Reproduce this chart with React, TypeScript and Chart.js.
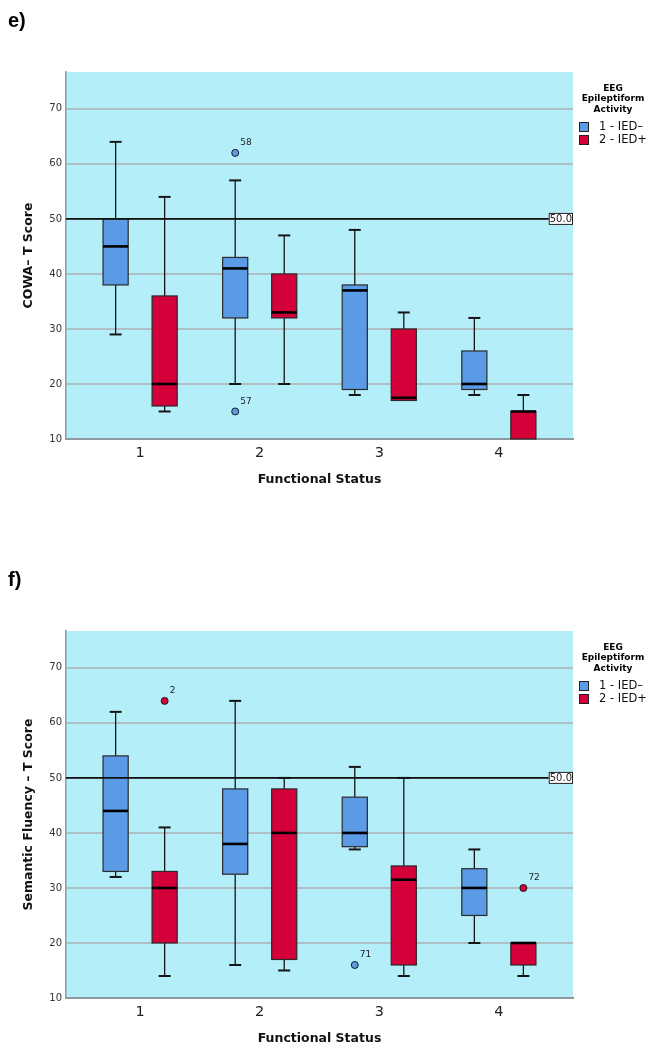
import React, { useEffect, useRef } from "react";
import { Chart, registerables } from "chart.js";

Chart.register(...registerables);

// ---------- shared data ----------
const categories = [1, 2, 3, 4];
const yTickValues = [10, 20, 30, 40, 50, 60, 70];
const seriesLabels = ["1 - IED–", "2 - IED+"];
const legendTitleLines = ["EEG", "Epileptiform", "Activity"];
const referenceValue = 50;
const referenceLabel = "50.0";

// ---------- e) COWA ----------
const cowaNegLow = [29, 20, 18, 18];
const cowaNegQ1 = [38, 32, 19, 19];
const cowaNegMedian = [45, 41, 37, 20];
const cowaNegQ3 = [50, 43, 38, 26];
const cowaNegHigh = [64, 57, 48, 32];
const cowaNegOutCat = [2, 2];
const cowaNegOutVal = [62, 15];
const cowaNegOutId = ["58", "57"];

const cowaPosLow = [15, 20, 17, 10];
const cowaPosQ1 = [16, 32, 17, 10];
const cowaPosMedian = [20, 33, 17.5, 15];
const cowaPosQ3 = [36, 40, 30, 15];
const cowaPosHigh = [54, 47, 33, 18];
const cowaPosOutCat: number[] = [];
const cowaPosOutVal: number[] = [];
const cowaPosOutId: string[] = [];

// ---------- f) Semantic Fluency ----------
const semNegLow = [32, 16, 37, 20];
const semNegQ1 = [33, 32.5, 37.5, 25];
const semNegMedian = [44, 38, 40, 30];
const semNegQ3 = [54, 48, 46.5, 33.5];
const semNegHigh = [62, 64, 52, 37];
const semNegOutCat = [3];
const semNegOutVal = [16];
const semNegOutId = ["71"];

const semPosLow = [14, 15, 14, 14];
const semPosQ1 = [20, 17, 16, 16];
const semPosMedian = [30, 40, 31.5, 20];
const semPosQ3 = [33, 48, 34, 20];
const semPosHigh = [41, 50, 50, 20];
const semPosOutCat = [1, 4];
const semPosOutVal = [64, 30];
const semPosOutId = ["2", "72"];

// ---------- styles ----------
const PLOT_BG = "#b4eef9";
const SERIES_COLORS = ["#5b9be6", "#d3003a"];
const SERIES_OFFSETS = [-0.205, 0.205];
const BOX_WIDTH = 0.21;
const FONT = "DejaVu Sans";

type Series = {
  low: number[];
  q1: number[];
  med: number[];
  q3: number[];
  high: number[];
  outCat: number[];
  outVal: number[];
  outId: string[];
};

function Panel(props: {
  top: number;
  panel: string;
  yTitle: string;
  series: Series[];
}) {
  const ref = useRef<HTMLCanvasElement>(null);
  useEffect(() => {
    const series = props.series;
    const plugin = {
      id: "boxplotDraw",
      beforeDraw(chart: any) {
        const { ctx, chartArea: a } = chart;
        ctx.save();
        ctx.fillStyle = PLOT_BG;
        ctx.fillRect(a.left, a.top, a.right - a.left, a.bottom - a.top);
        ctx.restore();
      },
      beforeDatasetsDraw(chart: any) {
        const { ctx, chartArea: a, scales } = chart;
        const x = scales.x;
        const y = scales.y;
        ctx.save();
        series.forEach((s, si) => {
          categories.forEach((c, i) => {
            const cx = x.getPixelForValue(c + SERIES_OFFSETS[si]);
            const xl = x.getPixelForValue(c + SERIES_OFFSETS[si] - BOX_WIDTH / 2);
            const xr = x.getPixelForValue(c + SERIES_OFFSETS[si] + BOX_WIDTH / 2);
            const yLow = y.getPixelForValue(s.low[i]);
            const yQ1 = y.getPixelForValue(s.q1[i]);
            const yMed = y.getPixelForValue(s.med[i]);
            const yQ3 = y.getPixelForValue(s.q3[i]);
            const yHigh = y.getPixelForValue(s.high[i]);
            ctx.strokeStyle = "#151515";
            if (s.high[i] > s.q3[i]) {
              ctx.lineWidth = 1.3;
              ctx.beginPath();
              ctx.moveTo(cx, yQ3);
              ctx.lineTo(cx, yHigh);
              ctx.stroke();
              ctx.lineWidth = 2;
              ctx.beginPath();
              ctx.moveTo(cx - 6, yHigh);
              ctx.lineTo(cx + 6, yHigh);
              ctx.stroke();
            }
            if (s.low[i] < s.q1[i]) {
              ctx.lineWidth = 1.3;
              ctx.beginPath();
              ctx.moveTo(cx, yQ1);
              ctx.lineTo(cx, yLow);
              ctx.stroke();
              ctx.lineWidth = 2;
              ctx.beginPath();
              ctx.moveTo(cx - 6, yLow);
              ctx.lineTo(cx + 6, yLow);
              ctx.stroke();
            }
            ctx.fillStyle = SERIES_COLORS[si];
            ctx.fillRect(xl, yQ3, xr - xl, yQ1 - yQ3);
            ctx.lineWidth = 1.2;
            ctx.strokeStyle = "#2a2a2a";
            ctx.strokeRect(xl, yQ3, xr - xl, yQ1 - yQ3);
            ctx.lineWidth = 2.6;
            ctx.strokeStyle = "#000";
            ctx.beginPath();
            ctx.moveTo(xl, yMed);
            ctx.lineTo(xr, yMed);
            ctx.stroke();
          });
        });
        const yr = y.getPixelForValue(referenceValue);
        ctx.strokeStyle = "#111";
        ctx.lineWidth = 1.6;
        ctx.beginPath();
        ctx.moveTo(a.left, yr);
        ctx.lineTo(a.right, yr);
        ctx.stroke();
        ctx.font = `10px "${FONT}"`;
        const tw = ctx.measureText(referenceLabel).width + 2;
        ctx.fillStyle = "#fff";
        ctx.fillRect(a.right - tw, yr - 6, tw, 12);
        ctx.lineWidth = 1;
        ctx.strokeStyle = "#222";
        ctx.strokeRect(a.right - tw + 0.5, yr - 5.5, tw - 1, 11);
        ctx.fillStyle = "#222";
        ctx.textAlign = "left";
        ctx.textBaseline = "middle";
        ctx.fillText(referenceLabel, a.right - tw + 1, yr + 0.5);
        ctx.restore();
      },
      afterDatasetsDraw(chart: any) {
        const { ctx, scales } = chart;
        ctx.save();
        ctx.font = `9px "${FONT}"`;
        ctx.fillStyle = "#222";
        ctx.textAlign = "left";
        ctx.textBaseline = "middle";
        series.forEach((s, si) => {
          s.outCat.forEach((c, k) => {
            const px = scales.x.getPixelForValue(c + SERIES_OFFSETS[si]);
            const py = scales.y.getPixelForValue(s.outVal[k]);
            ctx.fillText(s.outId[k], px + 5, py - 10);
          });
        });
        ctx.restore();
      },
      afterDraw(chart: any) {
        const { ctx, chartArea: a } = chart;
        ctx.save();
        ctx.fillStyle = "#000";
        ctx.font = `bold 20px "Liberation Sans"`;
        ctx.textAlign = "left";
        ctx.textBaseline = "middle";
        ctx.fillText(props.panel, 8, 21);
        const lx = a.right + 40;
        ctx.font = `bold 9px "${FONT}"`;
        ctx.textAlign = "center";
        legendTitleLines.forEach((t, i) => ctx.fillText(t, lx, 88.5 + i * 10.5));
        ctx.font = `11.5px "${FONT}"`;
        ctx.textAlign = "left";
        seriesLabels.forEach((lab, i) => {
          const sy = 122 + i * 13;
          ctx.fillStyle = SERIES_COLORS[i];
          ctx.fillRect(a.right + 6, sy, 10, 10);
          ctx.strokeStyle = "#222";
          ctx.lineWidth = 1;
          ctx.strokeRect(a.right + 6.5, sy + 0.5, 9, 9);
          ctx.fillStyle = "#111";
          ctx.fillText(lab, a.right + 26, sy + 5.5);
        });
        ctx.restore();
      },
    };

    const datasets = props.series.map((s, si) => ({
      label: seriesLabels[si],
      data: s.outCat.map((c, k) => ({ x: c + SERIES_OFFSETS[si], y: s.outVal[k] })),
      backgroundColor: SERIES_COLORS[si],
      borderColor: "#1a1a1a",
      borderWidth: 1,
      pointRadius: 3.5,
    }));

    const chart = new Chart(ref.current as HTMLCanvasElement, {
      type: "scatter",
      data: { datasets },
      options: {
        animation: false,
        responsive: false,
        events: [],
        layout: { padding: { top: 72, right: 82, left: 0, bottom: 0 } },
        plugins: { legend: { display: false }, tooltip: { enabled: false } },
        scales: {
          x: {
            type: "linear",
            min: 0.38,
            max: 4.62,
            afterBuildTicks: (s: any) => {
              s.ticks = categories.map((v) => ({ value: v }));
            },
            afterFit: (s: any) => {
              s.height = 51;
            },
            grid: { display: false, drawTicks: false },
            border: { display: true, color: "#8e9aa0", width: 2 },
            ticks: {
              padding: 5.3,
              color: "#222",
              font: { family: FONT, size: 14.5 },
              callback: (v: any) => String(v),
            },
            title: {
              display: true,
              text: "Functional Status",
              color: "#111",
              font: { family: FONT, size: 12.5, weight: "bold" },
              padding: { top: 0, bottom: 2.5 },
            },
          },
          y: {
            type: "linear",
            min: 10,
            max: 76.7,
            afterBuildTicks: (s: any) => {
              s.ticks = yTickValues.map((v) => ({ value: v }));
            },
            afterFit: (s: any) => {
              s.width = 66;
            },
            grid: { display: true, drawTicks: false, color: "#aebfc6", lineWidth: 2 },
            border: { display: true, color: "#8e9aa0", width: 1.5 },
            ticks: {
              padding: 4,
              color: "#333",
              font: { family: FONT, size: 10 },
              callback: (v: any) => String(v),
            },
            title: {
              display: true,
              text: props.yTitle,
              color: "#111",
              font: { family: FONT, size: 12.5, weight: "bold" },
              padding: { top: 21.5, bottom: 0 },
            },
          },
        },
      },
      plugins: [plugin],
    } as any);
    return () => chart.destroy();
  }, []);
  return (
    <canvas
      ref={ref}
      width={655}
      height={490}
      style={{ position: "absolute", left: 0, top: props.top, width: 655, height: 490 }}
    />
  );
}

export default function App() {
  const cowa: Series[] = [
    { low: cowaNegLow, q1: cowaNegQ1, med: cowaNegMedian, q3: cowaNegQ3, high: cowaNegHigh, outCat: cowaNegOutCat, outVal: cowaNegOutVal, outId: cowaNegOutId },
    { low: cowaPosLow, q1: cowaPosQ1, med: cowaPosMedian, q3: cowaPosQ3, high: cowaPosHigh, outCat: cowaPosOutCat, outVal: cowaPosOutVal, outId: cowaPosOutId },
  ];
  const sem: Series[] = [
    { low: semNegLow, q1: semNegQ1, med: semNegMedian, q3: semNegQ3, high: semNegHigh, outCat: semNegOutCat, outVal: semNegOutVal, outId: semNegOutId },
    { low: semPosLow, q1: semPosQ1, med: semPosMedian, q3: semPosQ3, high: semPosHigh, outCat: semPosOutCat, outVal: semPosOutVal, outId: semPosOutId },
  ];
  return (
    <div style={{ position: "absolute", left: 0, top: 0, width: 655, height: 1050, background: "#fff" }}>
      <Panel top={0} panel="e)" yTitle="COWA– T Score" series={cowa} />
      <Panel top={559} panel="f)" yTitle="Semantic Fluency – T Score" series={sem} />
    </div>
  );
}
